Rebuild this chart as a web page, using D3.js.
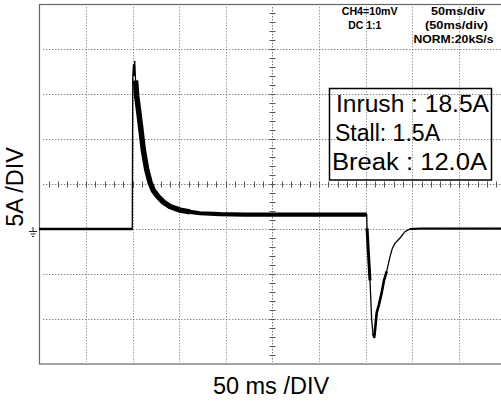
<!DOCTYPE html>
<html><head><meta charset="utf-8">
<script src="https://cdn.jsdelivr.net/npm/d3@7"></script>
<style>body{margin:0;background:#fff}svg{display:block}</style>
</head><body>
<svg id="c" width="501" height="402"></svg>
<script>
const timeMs = [0, 99.7, 100.2, 101.0, 101.5, 102.3, 103.2, 104.4, 106.4, 108.7, 111.5, 115.2, 118.7, 122.2, 127.3, 133.0, 140.1, 150.9, 161.6, 172.3, 193.8, 220, 260, 300, 351.1,
  351.4, 353.0, 354.6, 356.4, 357.8, 359.2, 360.5, 361.8, 364.2, 367.1, 369.6, 372.5, 376.0, 378.7, 381.4, 386.8, 392.1, 397.5, 408, 450, 500];
const currentA = [0, 0, 16.8, 18.3, 17.0, 18.7, 16.5, 14.8, 13.2, 11.3, 8.8, 6.6, 5.2, 4.3, 3.6, 3.0, 2.5, 2.1, 1.9, 1.75, 1.65, 1.6, 1.6, 1.6, 1.6,
  0.1, -2.9, -5.7, -10.1, -11.6, -12.0, -10.7, -9.3, -8.4, -7.1, -5.7, -4.7, -3.1, -2.1, -1.6, -1.0, -0.3, 0, 0.05, 0.05, 0.05];
const xTicks = d3.range(0, 501, 50);      // ms, 50 ms/div
const yTicks = d3.range(-15, 26, 5);      // A, 5 A/div
const xMinor = d3.range(0, 501, 10);
const yMinor = d3.range(-15, 26, 1);
const infoLines = ["Inrush : 18.5A", "Stall: 1.5A", "Break : 12.0A"];
const scopeLeft = ["CH4=10mV", "DC  1:1"];
const scopeRight = ["50ms/div", "(50ms/div)", "NORM:20kS/s"];
const xLabel = "50 ms /DIV";
const yLabel = "5A /DIV";
// style ranges for the noisy trace band [tStart, tEnd, width]
const bandRanges = [[0, 99.7, 2.4], [103.2, 161.6, 5.5], [161.6, 351.1, 4.2], [351.4, 354.6, 3], [357.8, 372.5, 2.6], [397.5, 500, 2]];

const svg = d3.select("#c");
const x = d3.scaleLinear().domain([0, 500]).range([39.3, 505.6]);
const y = d3.scaleLinear().domain([-15, 25]).range([364, 4]);

const g = svg.append("g");
// frame
g.append("rect").attr("x", 39.5).attr("y", 4.5).attr("width", 475).attr("height", 359.5)
  .attr("fill", "none").attr("stroke", "#666").attr("stroke-width", 1.2);

// vertical grid
g.selectAll(".vg").data(xTicks.filter(d => d > 0 && d < 500)).join("line")
  .attr("x1", d => Math.round(x(d)) + 0.5).attr("x2", d => Math.round(x(d)) + 0.5)
  .attr("y1", y(25) + 3).attr("y2", y(-15) - 2)
  .attr("stroke", d => d === 250 ? "#777" : "#9a9a9a").attr("stroke-width", 1)
  .attr("stroke-dasharray", "1.5,1.5");
// horizontal grid
g.selectAll(".hg").data(yTicks.filter(d => d > -15 && d < 25)).join("line")
  .attr("y1", d => Math.round(y(d)) + 0.5).attr("y2", d => Math.round(y(d)) + 0.5)
  .attr("x1", x(0) + 4).attr("x2", 501)
  .attr("stroke", "#555").attr("stroke-width", 1)
  .attr("stroke-dasharray", "1,2");
// centre minor ticks
const cy = Math.round(y(5)) + 0.5, cx = Math.round(x(250)) + 0.5;
g.selectAll(".xm").data(xMinor.filter(d => d > 0 && d < 500)).join("line")
  .attr("x1", d => Math.round(x(d)) + 0.5).attr("x2", d => Math.round(x(d)) + 0.5)
  .attr("y1", cy - 3).attr("y2", cy + 3).attr("stroke", "#555").attr("stroke-width", 1);
g.selectAll(".ym").data(yMinor.filter(d => d > -15 && d < 25)).join("line")
  .attr("y1", d => Math.round(y(d)) + 0.5).attr("y2", d => Math.round(y(d)) + 0.5)
  .attr("x1", cx - 3).attr("x2", cx + 3).attr("stroke", "#555").attr("stroke-width", 1);

// ground symbol
const gy = y(0);
g.append("path").attr("d",
  `M33,${gy - 2}V${gy + 2.5}M29,${gy + 2.5}H37M30.5,${gy + 5}H35.5M32,${gy + 7.5}H34`)
  .attr("stroke", "#222").attr("stroke-width", 1).attr("fill", "none");

// trace
const pts = timeMs.map((t, i) => [t, currentA[i]]);
const line = d3.line().x(d => x(d[0])).y(d => y(d[1]));
bandRanges.forEach(([a, b, w]) => {
  g.append("path").datum(pts.filter(p => p[0] >= a && p[0] <= b))
    .attr("d", line).attr("fill", "none").attr("stroke", "#000")
    .attr("stroke-width", w).attr("stroke-linejoin", "round");
});
g.append("path").datum(pts).attr("d", line).attr("fill", "none")
  .attr("stroke", "#000").attr("stroke-width", 1.3).attr("stroke-linejoin", "miter");

// info box
g.append("rect").attr("x", 329.5).attr("y", 88.5).attr("width", 162).attr("height", 91.5)
  .attr("fill", "none").attr("stroke", "#000").attr("stroke-width", 1.5);
const infoLen = [153, 105, 155];
const infoBase = [111.7, 140.5, 170];
g.selectAll(".info").data(infoLines).join("text")
  .attr("x", (d, i) => i === 0 ? 336 : (i === 1 ? 335 : 332)).attr("y", (d, i) => infoBase[i])
  .attr("textLength", (d, i) => infoLen[i]).attr("lengthAdjust", "spacingAndGlyphs")
  .attr("font-family", "Liberation Sans, Arial, sans-serif").attr("font-size", 23)
  .attr("fill", "#000").text(d => d);

// scope text
const sFont = "Liberation Sans, Arial, sans-serif";
const leftX = [341.7, 348.3], leftLen = [56, 33];
g.selectAll(".sl").data(scopeLeft).join("text")
  .attr("x", (d, i) => leftX[i]).attr("y", (d, i) => 14.5 + i * 14.2)
  .attr("textLength", (d, i) => leftLen[i]).attr("lengthAdjust", "spacingAndGlyphs")
  .attr("font-family", sFont).attr("font-weight", "bold").attr("font-size", 10.5)
  .attr("fill", "#000").text(d => d);
const rightX = [431, 425, 413.5], rightLen = [54, 63, 80];
g.selectAll(".sr").data(scopeRight).join("text")
  .attr("x", (d, i) => rightX[i]).attr("y", (d, i) => 14.5 + i * 14.2)
  .attr("textLength", (d, i) => rightLen[i]).attr("lengthAdjust", "spacingAndGlyphs")
  .attr("font-family", sFont).attr("font-weight", "bold").attr("font-size", 10.5)
  .attr("fill", "#000").text(d => d);

// axis labels
svg.append("text").attr("x", 271).attr("y", 394).attr("text-anchor", "middle")
  .attr("font-family", sFont).attr("font-size", 23.5).attr("fill", "#000").text(xLabel);
svg.append("text").attr("transform", "translate(22.5,187) rotate(-90)").attr("text-anchor", "middle")
  .attr("font-family", sFont).attr("font-size", 23.5).attr("fill", "#000").text(yLabel);
</script>
</body></html>
